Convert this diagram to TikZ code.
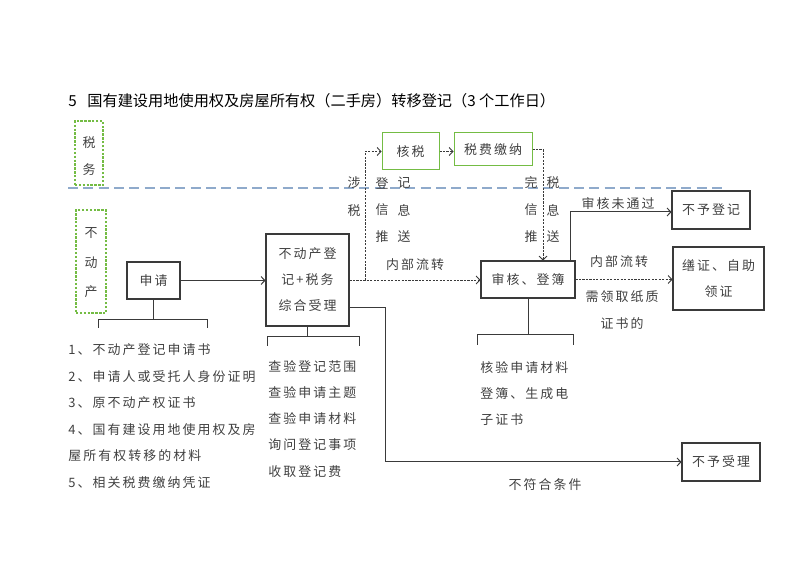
\documentclass[tikz,border=0pt]{standalone}
\usepackage{fontspec}
\usetikzlibrary{arrows.meta,calc}
\newfontfamily\cjk[LetterSpace=16]{Noto Sans CJK SC}
\newfontfamily\cjkhead{Noto Sans CJK SC}
\definecolor{linec}{HTML}{3A3A3A}
\definecolor{txt}{HTML}{404040}
\definecolor{grn}{HTML}{74BC44}
\definecolor{sep}{HTML}{8FAACB}
\begin{document}
\begin{tikzpicture}[x=0.75pt,y=-0.75pt,
  body/.style={text=txt, inner sep=0pt, font=\cjk\fontsize{9.7}{19.5}\selectfont},
  box/.style={body, draw=linec, line width=0.8pt, align=center},
  gbox/.style={body, draw=grn, line width=0.75pt, align=center},
  zone/.style={gbox, line width=0.9pt, dash pattern=on 1.8pt off 1.1pt},
  wire/.style={draw=linec, line width=0.75pt},
  flow/.style={wire, -{Straight Barb[length=2.8pt,width=6pt]}},
  dots/.style={flow, line width=0.7pt, dash pattern=on 1.6pt off 1pt},
  lbl/.style={body, anchor=center},
  item/.style={body, anchor=west}]
\useasboundingbox (0,0) rectangle (800,566);

% heading
\node[anchor=west, inner sep=0pt, font=\cjkhead\fontsize{11.4}{13}\selectfont] (title) at (68,101)
  {5\hspace{8pt}国有建设用地使用权及房屋所有权（二手房）转移登记（3 个工作日）};

% department zones and the separating line
\node[zone, minimum width=21pt, minimum height=48pt] (swzone) at (89,153) {};
\node[lbl] (sw1) at (89,143) {税};
\node[lbl] (sw2) at (89,170) {务};
\node[zone, minimum width=22.5pt, minimum height=77.25pt] (bdczone) at (91,261.5) {};
\node[lbl] (bdc1) at (91,233) {不};
\node[lbl] (bdc2) at (91,263) {动};
\node[lbl] (bdc3) at (91,292) {产};
\draw[sep, line width=0.9pt, dash pattern=on 7.5pt off 4pt] (68,188) coordinate (sepL) -- (722,188) coordinate (sepR);

% process boxes
\node[box, minimum width=39.75pt, minimum height=27.75pt] (sq) at (153.5,280.5) {申请};
\node[box, minimum width=62.25pt, minimum height=69pt] (zh) at (307.5,280) {不动产登\\记+税务\\综合受理};
\node[gbox, minimum width=42.75pt, minimum height=27.75pt] (hs) at (410.5,151.5) {核税};
\node[gbox, minimum width=58.5pt, minimum height=24.75pt] (jn) at (493,149.5) {税费缴纳};
\node[box, minimum width=70.5pt, minimum height=27.75pt] (sh) at (528,279.5) {审核、登簿};
\node[box, minimum width=58.5pt, minimum height=28.5pt] (bydj) at (711,210) {不予登记};
\node[box, minimum width=68.25pt, minimum height=47.25pt] (sz) at (718.5,278.5) {缮证、自助\\领证};
\node[box, minimum width=58.5pt, minimum height=28.5pt] (bysl) at (721,462) {不予受理};

% connectors
\draw[flow] (sq.east) -- (sq.east -| zh.west);
\coordinate (fork) at (365,280);
\draw[dots] (zh.east) -- (zh.east -| sh.west);
\draw[dots] (fork) |- (hs.west);
\draw[dots] (hs.east) -- (hs.east -| jn.west);
\draw[dots] (jn.east) -| ($(sh.north)+(15,0)$);
\draw[flow] ($(sh.north east)+(-5,0)$) |- ($(bydj.west)+(0,2)$);
\draw[dots] (sh.east) -- (sh.east -| sz.west);
\coordinate (rej) at (385,308);
\draw[flow] (zh.east |- rej) -- (rej) |- (bysl.west);

% connector labels
\node[lbl] (l1a) at (354,183) {涉};
\node[lbl] (l1b) at (354,211) {税};
\node[lbl] (l2a) at (382,183) {登};
\node[lbl] (l2b) at (404,183) {记};
\node[lbl] (l2c) at (382,210) {信};
\node[lbl] (l2d) at (404,210) {息};
\node[lbl] (l2e) at (382,237) {推};
\node[lbl] (l2f) at (404,237) {送};
\node[lbl] (l3a) at (531,183) {完};
\node[lbl] (l3b) at (553,183) {税};
\node[lbl] (l3c) at (531,210) {信};
\node[lbl] (l3d) at (553,210) {息};
\node[lbl] (l3e) at (531,237) {推};
\node[lbl] (l3f) at (553,237) {送};
\node[lbl] (nb1) at (415,265) {内部流转};
\node[lbl] (wtg) at (618,204) {审核未通过};
\node[lbl] (nb2) at (619,262) {内部流转};
\node[lbl] (zz1) at (622,297) {需领取纸质};
\node[lbl] (zz2) at (622,324) {证书的};
\node[lbl] (bfh) at (545,485) {不符合条件};

% brackets
\draw[wire] (sq.south) -- (sq.south |- 0,320);
\draw[wire] (98,328) -- (98,320) -- (207,320) -- (207,328);
\draw[wire] (zh.south) -- (zh.south |- 0,337);
\draw[wire] (267,346) -- (267,337) -- (359,337) -- (359,346);
\draw[wire] (sh.south) -- (sh.south |- 0,335);
\draw[wire] (477,345) -- (477,335) -- (573,335) -- (573,345);

% application materials
\node[item] (m1) at (68,350) {1、不动产登记申请书};
\node[item] (m2) at (68,377) {2、申请人或受托人身份证明};
\node[item] (m3) at (68,403) {3、原不动产权证书};
\node[item] (m4) at (68,430) {4、国有建设用地使用权及房};
\node[item] (m5) at (68,456) {屋所有权转移的材料};
\node[item] (m6) at (68,483) {5、相关税费缴纳凭证};

% acceptance checks
\node[item] (c1) at (268,367) {查验登记范围};
\node[item] (c2) at (268,393) {查验申请主题};
\node[item] (c3) at (268,419) {查验申请材料};
\node[item] (c4) at (268,445) {询问登记事项};
\node[item] (c5) at (268,472) {收取登记费};

% review tasks
\node[item] (r1) at (480,368) {核验申请材料};
\node[item] (r2) at (480,394) {登簿、生成电};
\node[item] (r3) at (480,420) {子证书};
\end{tikzpicture}
\end{document}
